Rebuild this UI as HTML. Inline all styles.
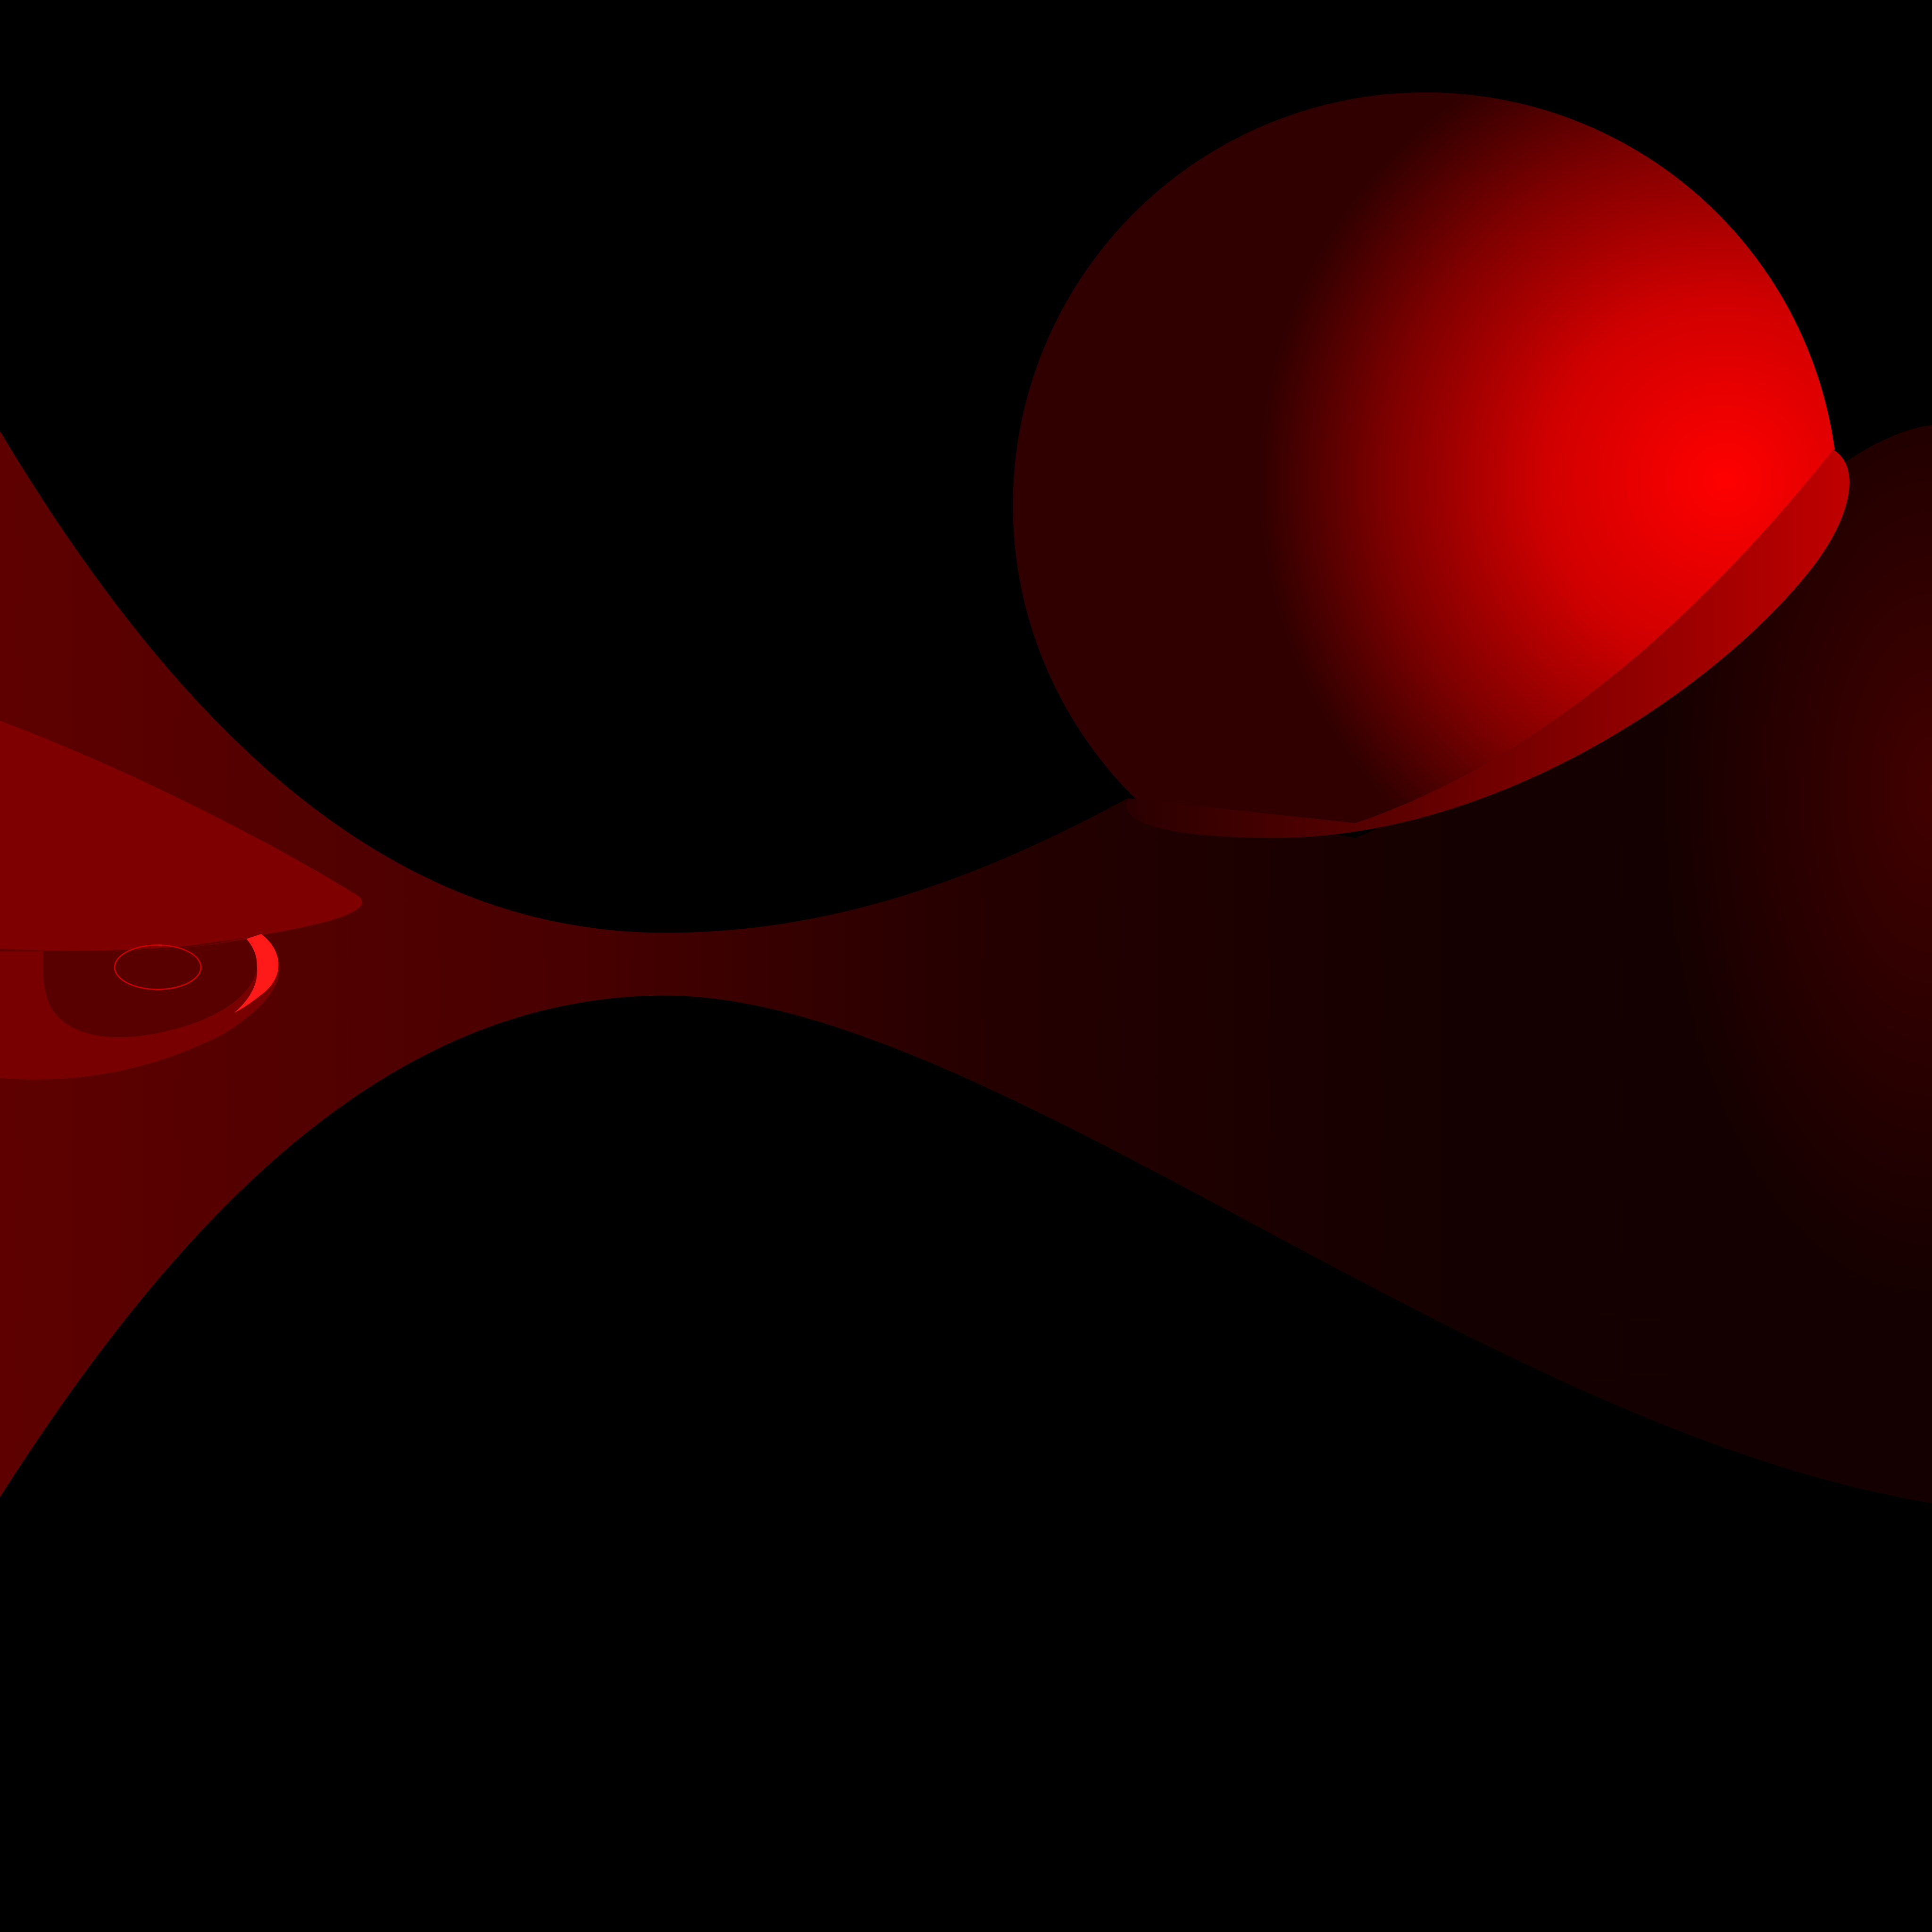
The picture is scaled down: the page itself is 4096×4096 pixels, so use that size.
<!DOCTYPE html>
<html>
<head>
<meta charset="utf-8">
<style>
html,body{margin:0;padding:0;background:#000;}
svg{display:block;}
</style>
</head>
<body>
<svg width="4096" height="4096" viewBox="0 0 1568 1568" xmlns="http://www.w3.org/2000/svg">
  <defs>
    <linearGradient id="saddleG" x1="0" y1="0" x2="1568" y2="0" gradientUnits="userSpaceOnUse">
      <stop offset="0" stop-color="#5e0000"/>
      <stop offset="0.3" stop-color="#480000"/>
      <stop offset="0.5" stop-color="#260000"/>
      <stop offset="0.75" stop-color="#150000"/>
      <stop offset="1" stop-color="#140000"/>
    </linearGradient>
    <radialGradient id="rightGlow" cx="1568" cy="640" r="1" gradientUnits="userSpaceOnUse" gradientTransform="translate(1568 640) scale(220 420) translate(-1568 -640)">
      <stop offset="0" stop-color="#4a0000" stop-opacity="0.85"/>
      <stop offset="1" stop-color="#4a0000" stop-opacity="0"/>
    </radialGradient>
    <radialGradient id="sphereG" cx="1400" cy="390" r="420" gradientUnits="userSpaceOnUse">
      <stop offset="0" stop-color="#ff0000"/>
      <stop offset="0.35" stop-color="#d00000"/>
      <stop offset="0.65" stop-color="#800000"/>
      <stop offset="0.9" stop-color="#300000"/>
      <stop offset="1" stop-color="#300000"/>
    </radialGradient>
    <linearGradient id="diskG" x1="915" y1="0" x2="1500" y2="0" gradientUnits="userSpaceOnUse">
      <stop offset="0" stop-color="#2a0000"/>
      <stop offset="0.4" stop-color="#600000"/>
      <stop offset="1" stop-color="#c00000"/>
    </linearGradient>
    <clipPath id="sphereClip">
      <path d="M0,0 H1568 V365 L1488,365 Q1300,600 1100,668 L915,648 L0,648 Z"/>
    </clipPath>
    <clipPath id="saddleClip">
      <path d="M0,350 C150,600 320,757 540,757 C680,757 800,710 915,648 L1100,680 C1300,600 1450,360 1568,345 L1568,1220 C1200,1160 800,808 540,808 C320,808 150,980 0,1215 Z"/>
    </clipPath>
  </defs>

  <rect x="0" y="0" width="1568" height="1568" fill="#000"/>

  <path
    d="M0,350 C150,600 320,757 540,757 C680,757 800,710 915,648 L1100,680 C1300,600 1450,360 1568,345 L1568,1220 C1200,1160 800,808 540,808 C320,808 150,980 0,1215 Z"
    fill="url(#saddleG)"/>
  <rect x="1200" y="200" width="368" height="900" fill="url(#rightGlow)" clip-path="url(#saddleClip)"/>

  <path
    d="M0,585 C120,630 240,695 292,728 C305,742 250,755 150,768 C90,773 40,772 0,770 Z"
    fill="#7e0000"/>

  <g>
    <path d="M35,772 C100,775 170,770 210,758 C240,780 230,810 180,840 C120,870 60,880 0,875 L0,772 Z" fill="#780000"/>
    <path d="M200,762 L212,758 C228,770 232,790 215,805 C205,813 198,818 190,822 C210,805 215,785 200,762 Z" fill="#ff1a1a"/>
    <path d="M35,772 C100,775 160,770 200,762 C220,785 205,815 150,833 C100,848 55,845 40,815 C34,800 35,785 35,772 Z" fill="#580000"/>
    <ellipse cx="128" cy="785" rx="35" ry="18" fill="none" stroke="#d00000" stroke-width="1"/>
  </g>

  <circle cx="1157" cy="410" r="335" fill="url(#sphereG)" clip-path="url(#sphereClip)"/>

  <path
    d="M1488,365 C1510,378 1505,420 1465,468 C1385,565 1210,680 1035,680 C955,680 905,670 916,648 L1100,668 Q1300,600 1488,365 Z"
    fill="url(#diskG)"/>
</svg>
</body>
</html>
